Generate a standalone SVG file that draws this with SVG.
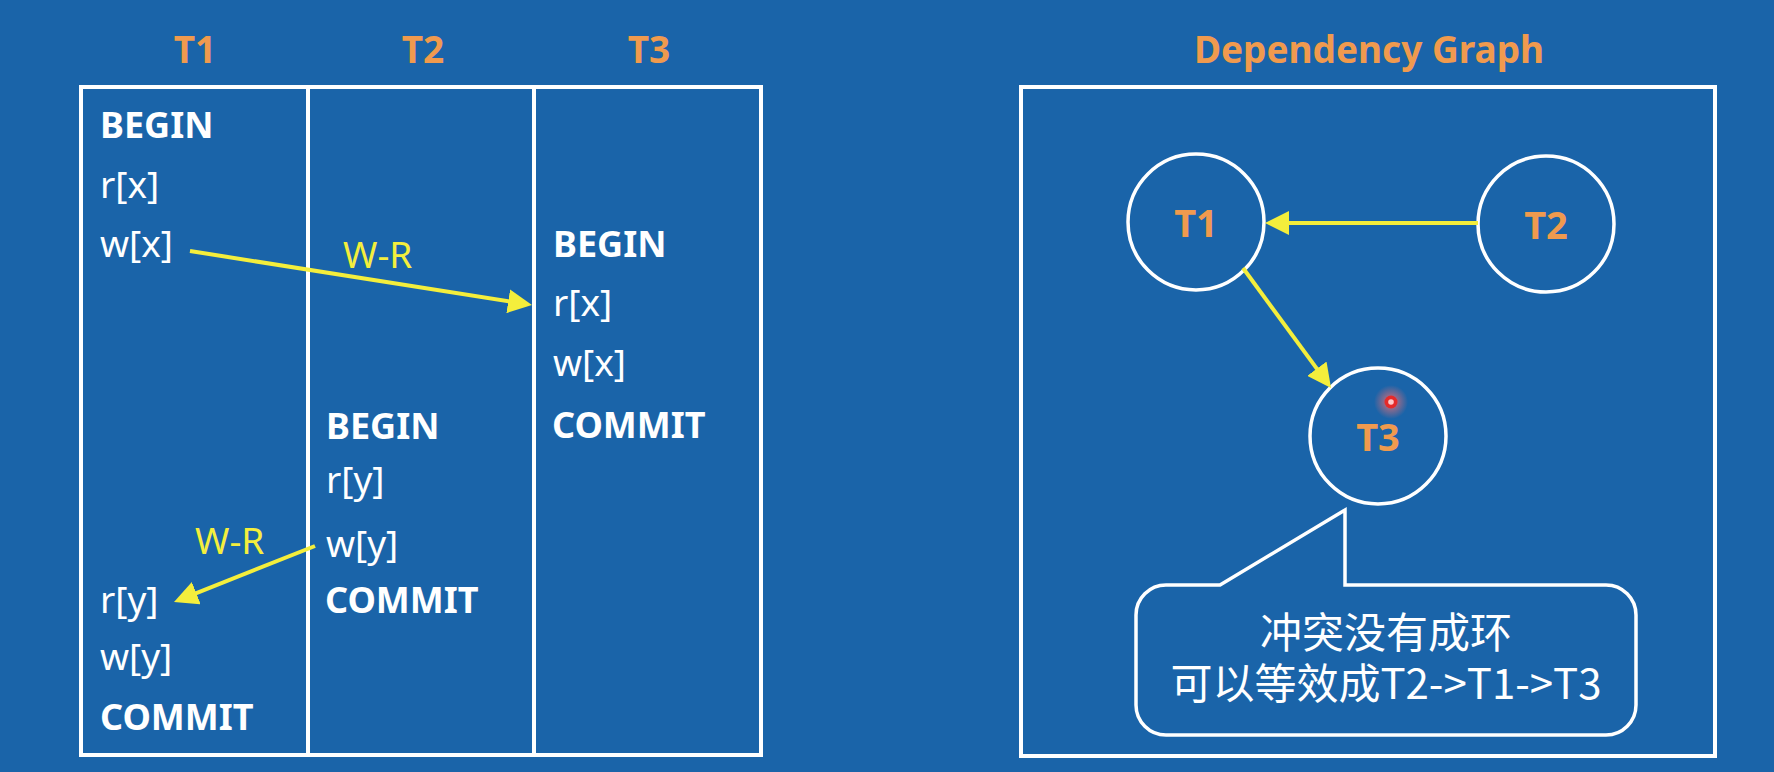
<svg xmlns="http://www.w3.org/2000/svg" width="1774" height="772" viewBox="0 0 1774 772">
<style>
.bg{fill:#1A64A9}
.frame{fill:none;stroke:#FFFFFF;stroke-width:4}
.hdr{font-family:"Noto Sans","Liberation Sans",sans-serif;font-weight:bold;font-size:37px;fill:#F09A4E;text-anchor:middle}
.kw{font-family:"Noto Sans","Liberation Sans",sans-serif;font-weight:bold;font-size:36px;fill:#FFFFFF}
.op{font-family:"Noto Sans","Liberation Sans",sans-serif;font-size:37px;fill:#FFFFFF}
.lbl{font-family:"Noto Sans","Liberation Sans",sans-serif;font-size:37px;fill:#F4EE3C}
.node{fill:none;stroke:#FFFFFF;stroke-width:3.5}
.ntxt{font-family:"Noto Sans","Liberation Sans",sans-serif;font-weight:bold;font-size:38px;fill:#F09A4E;text-anchor:middle}
.edge{fill:none;stroke:#F4EE3C;stroke-width:4;marker-end:url(#ah)}
.note{font-family:"Noto Sans CJK SC","Noto Sans",sans-serif;font-size:42px;fill:#FFFFFF;text-anchor:middle}
</style>
<defs>
<marker id="ah" viewBox="0 0 12 12" refX="2" refY="6" markerWidth="6" markerHeight="6" orient="auto" markerUnits="strokeWidth">
<path d="M0,0 L12,6 L0,12 Z" fill="#F4EE3C"/>
</marker>
<radialGradient id="glow">
<stop offset="0" stop-color="#ff7070" stop-opacity="0.85"/>
<stop offset="1" stop-color="#ff7070" stop-opacity="0"/>
</radialGradient>
</defs>
<rect class="bg" x="0" y="0" width="1774" height="772"/>

<g id="schedule">
<text class="hdr" x="195" y="63">T1</text>
<text class="hdr" x="423" y="63">T2</text>
<text class="hdr" x="649" y="63">T3</text>
<rect class="frame" x="81" y="87" width="680" height="668"/>
<line class="frame" x1="308" y1="87" x2="308" y2="755"/>
<line class="frame" x1="534" y1="87" x2="534" y2="755"/>
</g>

<g id="col-T1">
<text class="kw" x="100" y="138">BEGIN</text>
<text class="op" x="100" y="198">r[x]</text>
<text class="op" x="100" y="257">w[x]</text>
<text class="op" x="100" y="613">r[y]</text>
<text class="op" x="100" y="670">w[y]</text>
<text class="kw" x="100" y="730">COMMIT</text>
</g>

<g id="col-T2">
<text class="kw" x="326" y="439">BEGIN</text>
<text class="op" x="326" y="493">r[y]</text>
<text class="op" x="326" y="557">w[y]</text>
<text class="kw" x="325" y="613">COMMIT</text>
</g>

<g id="col-T3">
<text class="kw" x="553" y="257">BEGIN</text>
<text class="op" x="553" y="316">r[x]</text>
<text class="op" x="553" y="376">w[x]</text>
<text class="kw" x="552" y="438">COMMIT</text>
</g>

<g id="graph-frame">
<text class="hdr" x="1369" y="63">Dependency Graph</text>
<rect class="frame" x="1021" y="87" width="694" height="669"/>
</g>

<g id="node-T1">
<circle class="node" cx="1196" cy="222" r="68"/>
<text class="ntxt" x="1196" y="237">T1</text>
</g>
<g id="node-T2">
<circle class="node" cx="1546" cy="224" r="68"/>
<text class="ntxt" x="1546" y="239">T2</text>
</g>
<g id="node-T3">
<circle class="node" cx="1378" cy="436" r="68"/>
<text class="ntxt" x="1378" y="451">T3</text>
</g>

<g id="connectors">
<line class="edge" x1="190" y1="251" x2="512.2" y2="301.9"/>
<text class="lbl" x="343" y="268">W-R</text>
<line class="edge" x1="315" y1="546" x2="192.6" y2="594.6"/>
<text class="lbl" x="195" y="554">W-R</text>
<line class="edge" x1="1478" y1="223" x2="1285" y2="223"/>
<line class="edge" x1="1243" y1="268" x2="1319.2" y2="371.9"/>
</g>

<g id="cursor">
<circle cx="1391" cy="402" r="17" fill="url(#glow)"/>
<circle cx="1391" cy="402" r="6.5" fill="#E52A2A"/>
<circle cx="1391" cy="402" r="2.8" fill="#FFC8C8"/>
</g>

<g id="callout">
<path class="node" stroke-width="3" d="M1166,585 L1220,585 L1345,510 L1345,585 L1606,585 A30,30 0 0 1 1636,615 L1636,705 A30,30 0 0 1 1606,735 L1166,735 A30,30 0 0 1 1136,705 L1136,615 A30,30 0 0 1 1166,585 Z"/>
<text class="note" x="1386" y="648">冲突没有成环<tspan x="1386" dy="51">可以等效成T2-&gt;T1-&gt;T3</tspan></text>
</g>
</svg>
